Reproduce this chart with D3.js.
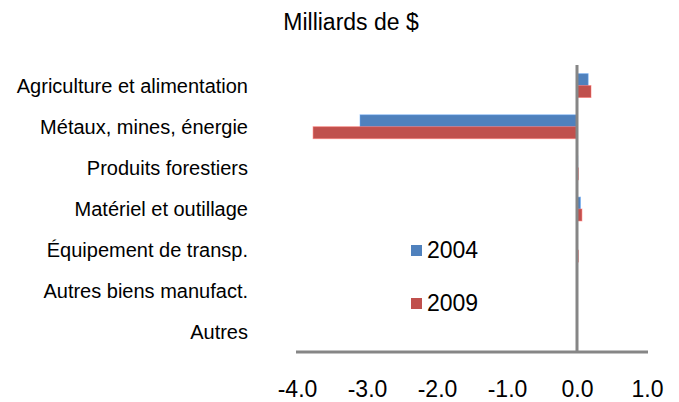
<!DOCTYPE html>
<html>
<head>
<meta charset="utf-8">
<script src="https://cdn.jsdelivr.net/npm/d3@7"></script>
<style>
  body { margin: 0; background: #fff; }
  text { font-family: "Liberation Sans", Arial, sans-serif; fill: #000; }
</style>
</head>
<body>
<div id="chart"></div>
<script>
// Data
const categories = [
  "Agriculture et alimentation",
  "Métaux, mines, énergie",
  "Produits forestiers",
  "Matériel et outillage",
  "Équipement de transp.",
  "Autres biens manufact.",
  "Autres"
];
const values2004 = [0.16, -3.1, 0.01, 0.05, 0.0, 0.0, 0.0];
const values2009 = [0.2, -3.77, 0.02, 0.07, 0.02, 0.0, 0.0];
const seriesNames = ["2004", "2009"];
const xTicks = [-4, -3, -2, -1, 0, 1];

const width = 679
const height = 402
const colors = ["#4f81bd", "#c0504d"]

const svg = d3.select("#chart")
  .append("svg")
  .attr("width", width)
  .attr("height", height)

// Scales
const x = d3.scaleLinear()
  .domain([-4, 1])
  .range([297, 647])

const y = d3.scaleBand()
  .domain(categories)
  .range([65, 353])
  .paddingInner(0.42)
  .paddingOuter(0.21)

const ySub = d3.scaleBand()
  .domain(seriesNames)
  .range([0, y.bandwidth()])

// Title
svg.append("text")
  .attr("x", 351)
  .attr("y", 30)
  .attr("text-anchor", "middle")
  .style("font-size", "23px")
  .text("Milliards de $")

// Bars
const series = [values2004, values2009]
series.forEach((vals, s) => {
  svg.selectAll(".bar" + s)
    .data(categories)
    .enter()
    .append("rect")
    .attr("x", (d, i) => x(Math.min(0, vals[i])))
    .attr("y", d => y(d) + ySub(seriesNames[s]))
    .attr("width", (d, i) => Math.abs(x(vals[i]) - x(0)))
    .attr("height", ySub.bandwidth())
    .attr("fill", colors[s])
    .attr("stroke", d3.color(colors[s]).brighter(0.8))
    .attr("stroke-opacity", 0.5)
    .attr("stroke-width", 1)
})

// Category labels
svg.selectAll(".cat")
  .data(categories)
  .enter()
  .append("text")
  .attr("x", 248)
  .attr("y", d => y(d) + y.bandwidth() / 2)
  .attr("dy", "0.35em")
  .attr("text-anchor", "end")
  .style("font-size", "20px")
  .text(d => d)

// Bottom axis
const xAxis = svg.append("g")
  .attr("transform", "translate(0,352)")
  .call(d3.axisBottom(x).tickValues(xTicks).tickFormat(d3.format(".1f")).tickSize(0).tickPadding(29))
xAxis.select(".domain")
  .attr("d", "M296,0H648")
  .attr("stroke", "#868686")
  .attr("stroke-width", 3)
xAxis.selectAll("text")
  .style("font-size", "23px")
  .style("font-family", "'Liberation Sans', Arial, sans-serif")
  .attr("fill", "#000")
  .text(d => d3.format(".1f")(d).replace("−", "-"))

// Zero line
svg.append("line")
  .attr("x1", x(0))
  .attr("x2", x(0))
  .attr("y1", 65)
  .attr("y2", 352)
  .attr("stroke", "#868686")
  .attr("stroke-width", 3)

// Legend
const legend = svg.selectAll(".legend")
  .data(seriesNames)
  .enter()
  .append("g")
  .attr("transform", (d, i) => "translate(411," + (245 + i * 53) + ")")

legend.append("rect")
  .attr("width", 11)
  .attr("height", 11)
  .attr("fill", (d, i) => colors[i])

legend.append("text")
  .attr("x", 16)
  .attr("y", 13)
  .style("font-size", "23px")
  .text(d => d)
</script>
</body>
</html>
